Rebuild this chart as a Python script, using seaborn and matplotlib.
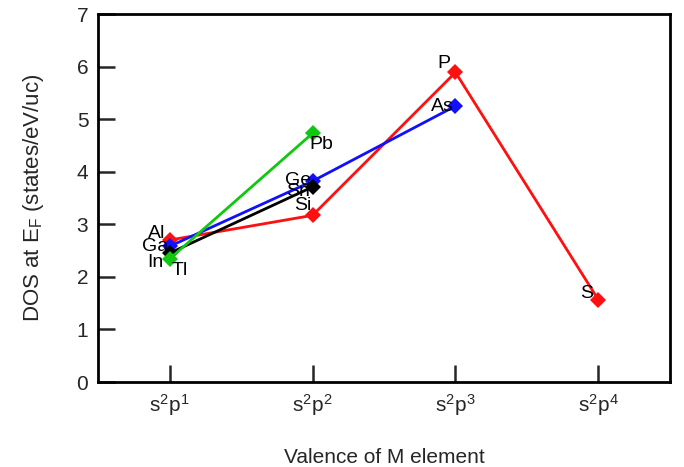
import pandas as pd
import matplotlib
matplotlib.use("Agg")
import matplotlib.pyplot as plt
import seaborn as sns

# valence categories (x) and series values
valence = [r"$\mathregular{s^2p^1}$", r"$\mathregular{s^2p^2}$",
           r"$\mathregular{s^2p^3}$", r"$\mathregular{s^2p^4}$"]

red_x = [1, 2, 3, 4]
red_y = [2.70, 3.17, 5.89, 1.56]
red_el = ["Al", "Si", "P", "S"]

blue_x = [1, 2, 3]
blue_y = [2.58, 3.82, 5.25]
blue_el = ["Ga", "Ge", "As"]

black_x = [1, 2]
black_y = [2.45, 3.71]
black_el = ["In", "Sn"]

green_x = [1, 2]
green_y = [2.34, 4.73]
green_el = ["Tl", "Pb"]

# text label positions (data coords)
label_pos = {
    "Al": (0.91, 2.83), "Ga": (0.90, 2.57), "In": (0.90, 2.28), "Tl": (1.07, 2.13),
    "Pb": (2.06, 4.51), "Ge": (1.90, 3.84), "Sn": (1.90, 3.63), "Si": (1.93, 3.35),
    "P": (2.92, 6.05), "As": (2.91, 5.25), "S": (3.92, 1.69),
}

rows = []
for name, xs, ys in [("red", red_x, red_y), ("blue", blue_x, blue_y),
                     ("black", black_x, black_y), ("green", green_x, green_y)]:
    for x, y in zip(xs, ys):
        rows.append({"series": name, "x": x, "y": y})
df = pd.DataFrame(rows)

sns.set_style("white")
plt.rcParams["font.family"] = ["Liberation Sans", "DejaVu Sans"]
plt.rcParams["mathtext.fontset"] = "custom"
plt.rcParams["mathtext.rm"] = "Liberation Sans"

fig = plt.figure(figsize=(6.84, 4.67), dpi=100)
ax = fig.add_axes([0.1433, 0.182, 0.8362, 0.788])

palette = {"red": "#ff1010", "blue": "#1010ff", "black": "#000000", "green": "#10c810"}
sns.lineplot(data=df, x="x", y="y", hue="series", palette=palette,
             hue_order=["red", "blue", "black", "green"],
             marker="D", markersize=8, markeredgewidth=0, linewidth=2,
             sort=False, legend=False, ax=ax)

for el, (tx, ty) in label_pos.items():
    ax.text(tx, ty, el, ha="center", va="center", fontsize=14, color="black")

ax.set_xlim(0.5, 4.5)
ax.set_ylim(0, 7)
ax.set_xticks([1, 2, 3, 4])
ax.set_xticklabels(valence)
ax.set_yticks(range(0, 8))
ax.tick_params(direction="in", length=12, width=1.8, labelsize=15,
               top=False, right=False, bottom=True, left=True, pad=7)
for sp in ax.spines.values():
    sp.set_linewidth(2)
    sp.set_color("black")

ax.set_xlabel("Valence of M element", fontsize=15, labelpad=22)
ax.set_ylabel(r"DOS at $\mathregular{E_F}$ (states/eV/uc)", fontsize=16, labelpad=22)

fig.savefig("out.png", dpi=100)
